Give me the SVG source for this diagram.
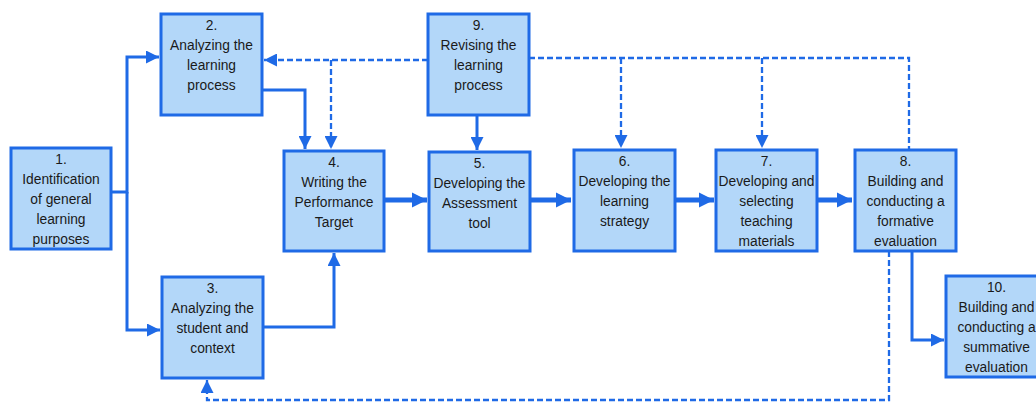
<svg xmlns="http://www.w3.org/2000/svg" width="1036" height="403" viewBox="0 0 1036 403">
<style>
.box{fill:#b3d7f9;stroke:#1f6ae6;stroke-width:3}
.t{font-family:"Liberation Sans",Arial,sans-serif;font-size:13.8px;fill:#1a1a1a;text-anchor:middle}
.s{fill:none;stroke:#1f6ae6;stroke-width:3}
.k{fill:none;stroke:#1f6ae6;stroke-width:5}
.d{fill:none;stroke:#1f6ae6;stroke-width:2.3;stroke-dasharray:6 3}
</style>
<defs>
<marker id="a" viewBox="0 0 10 10" refX="10" refY="5" markerWidth="13" markerHeight="13" markerUnits="userSpaceOnUse" orient="auto"><path d="M0,0L10,5L0,10z" fill="#1f6ae6"/></marker>
<marker id="b" viewBox="0 0 10 10" refX="10" refY="5" markerWidth="15" markerHeight="19" markerUnits="userSpaceOnUse" orient="auto"><path d="M0,0L10,5L0,10z" fill="#1f6ae6"/></marker>
</defs>
<g id="connectors">
<path class="s" d="M111,192H127V57H159" marker-end="url(#a)"/>
<path class="s" d="M127,192V330H160" marker-end="url(#a)"/>
<path class="s" d="M262,90H305V149" marker-end="url(#a)"/>
<path class="d" d="M428,60H264" marker-end="url(#a)"/>
<path class="d" d="M331,60V149" marker-end="url(#a)"/>
<path class="s" d="M477,115V150" marker-end="url(#a)"/>
<path class="d" d="M529,58H909V150"/>
<path class="d" d="M621,58V148" marker-end="url(#a)"/>
<path class="d" d="M762,58V148" marker-end="url(#a)"/>
<path class="k" d="M384,200H427" marker-end="url(#b)"/>
<path class="k" d="M530,200H571" marker-end="url(#b)"/>
<path class="k" d="M675,200H714" marker-end="url(#b)"/>
<path class="k" d="M817,200H852" marker-end="url(#b)"/>
<path class="s" d="M263,327H334V253" marker-end="url(#a)"/>
<path class="s" d="M912,251V340H944" marker-end="url(#a)"/>
<path class="d" d="M889,251V400H207V380" marker-end="url(#a)"/>
</g>
<g id="n1"><rect class="box" x="11" y="148" width="100" height="101"/>
<text class="t" x="61" y="164">1.</text><text class="t" x="61" y="184">Identification</text><text class="t" x="61" y="204">of general</text><text class="t" x="61" y="224">learning</text><text class="t" x="61" y="244">purposes</text></g>
<g id="n2"><rect class="box" x="161" y="14" width="101" height="101"/>
<text class="t" x="211.5" y="30">2.</text><text class="t" x="211.5" y="50">Analyzing the</text><text class="t" x="211.5" y="70">learning</text><text class="t" x="211.5" y="90">process</text></g>
<g id="n3"><rect class="box" x="162" y="277" width="101" height="101"/>
<text class="t" x="212.5" y="293">3.</text><text class="t" x="212.5" y="313">Analyzing the</text><text class="t" x="212.5" y="333">student and</text><text class="t" x="212.5" y="353">context</text></g>
<g id="n4"><rect class="box" x="284" y="151" width="100" height="100"/>
<text class="t" x="334" y="167">4.</text><text class="t" x="334" y="187">Writing the</text><text class="t" x="334" y="207">Performance</text><text class="t" x="334" y="227">Target</text></g>
<g id="n5"><rect class="box" x="429" y="152" width="101" height="99"/>
<text class="t" x="479.5" y="168">5.</text><text class="t" x="479.5" y="188">Developing the</text><text class="t" x="479.5" y="208">Assessment</text><text class="t" x="479.5" y="228">tool</text></g>
<g id="n6"><rect class="box" x="574" y="150" width="101" height="101"/>
<text class="t" x="624.5" y="166">6.</text><text class="t" x="624.5" y="186">Developing the</text><text class="t" x="624.5" y="206">learning</text><text class="t" x="624.5" y="226">strategy</text></g>
<g id="n7"><rect class="box" x="716" y="150" width="101" height="101"/>
<text class="t" x="766.5" y="166">7.</text><text class="t" x="766.5" y="186">Developing and</text><text class="t" x="766.5" y="206">selecting</text><text class="t" x="766.5" y="226">teaching</text><text class="t" x="766.5" y="246">materials</text></g>
<g id="n8"><rect class="box" x="855" y="150" width="101" height="101"/>
<text class="t" x="905.5" y="166">8.</text><text class="t" x="905.5" y="186">Building and</text><text class="t" x="905.5" y="206">conducting a</text><text class="t" x="905.5" y="226">formative</text><text class="t" x="905.5" y="246">evaluation</text></g>
<g id="n9"><rect class="box" x="428" y="14" width="101" height="101"/>
<text class="t" x="478.5" y="30">9.</text><text class="t" x="478.5" y="50">Revising the</text><text class="t" x="478.5" y="70">learning</text><text class="t" x="478.5" y="90">process</text></g>
<g id="n10"><rect class="box" x="946" y="276" width="101" height="101"/>
<text class="t" x="996.5" y="292">10.</text><text class="t" x="996.5" y="312">Building and</text><text class="t" x="996.5" y="332">conducting a</text><text class="t" x="996.5" y="352">summative</text><text class="t" x="996.5" y="372">evaluation</text></g>
</svg>
